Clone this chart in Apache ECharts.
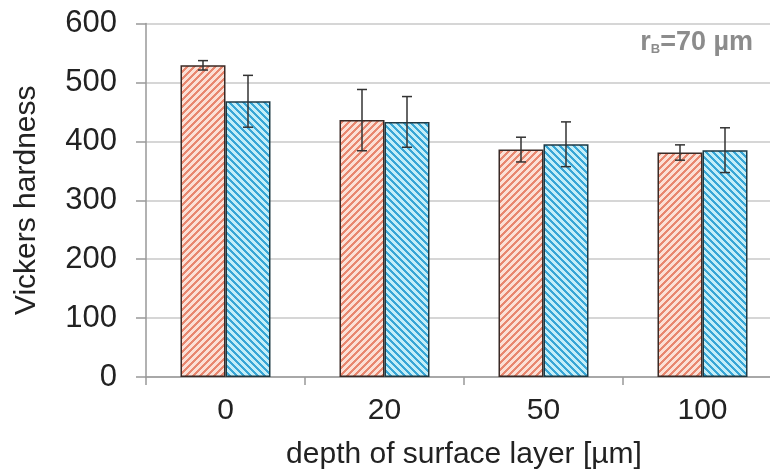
<!DOCTYPE html>
<html>
<head>
<meta charset="utf-8">
<script src="https://cdn.jsdelivr.net/npm/echarts@6/dist/echarts.min.js"></script>
<style>
html,body{margin:0;padding:0;background:#fff;}
#chart{width:770px;height:475px;}
</style>
</head>
<body>
<div id="chart"></div>
<script>
// ---- data ----
var categories = ['0', '20', '50', '100'];
var redValues  = [529, 436, 386, 381];
var redErrors  = [8, 52, 21, 13];
var blueValues = [468, 433, 395, 385];
var blueErrors = [44, 43, 38, 38];
var yTicks = [0, 100, 200, 300, 400, 500, 600];

function makeHatch(bg, fg, dir) {
  var n = 7;
  var c = document.createElement('canvas');
  c.width = n; c.height = n;
  var ctx = c.getContext('2d');
  ctx.fillStyle = bg;
  ctx.fillRect(0, 0, n, n);
  ctx.fillStyle = fg;
  for (var x = 0; x < n; x++) {
    for (var y = 0; y < n; y++) {
      var k = dir > 0 ? (x + y) % n : ((x - y) % n + n) % n;
      if (k < 3) ctx.fillRect(x, y, 1, 1);
    }
  }
  return c;
}
var redPattern = makeHatch('#fbe0d6', '#e8876f', 1);
var bluePattern = makeHatch('#c4eef8', '#38a6d6', -1);

var BAR_W = 45;
var FONT = '"Liberation Sans", Arial, sans-serif';

function errSeries(vals, errs, offset) {
  var data = vals.map(function (v, i) { return [i, v, errs[i]]; });
  return {
    type: 'custom',
    data: data,
    z: 10,
    renderItem: function (params, api) {
      var i = api.value(0), v = api.value(1), e = api.value(2);
      var top = api.coord([i, v + e]);
      var bot = api.coord([i, v - e]);
      var x = top[0] + offset;
      var cap = 5;
      var st = { stroke: '#333', lineWidth: 1.5 };
      return {
        type: 'group',
        children: [
          { type: 'line', shape: { x1: x, y1: top[1], x2: x, y2: bot[1] }, style: st },
          { type: 'line', shape: { x1: x - cap, y1: top[1], x2: x + cap, y2: top[1] }, style: st },
          { type: 'line', shape: { x1: x - cap, y1: bot[1], x2: x + cap, y2: bot[1] }, style: st }
        ]
      };
    }
  };
}

var chart = echarts.init(document.getElementById('chart'));
chart.setOption({
  animation: false,
  backgroundColor: '#fff',
  textStyle: { fontFamily: FONT },
  grid: { left: 146, top: 23.5, bottom: 98, right: -12, containLabel: false, outerBoundsMode: 'none' },
  title: {
    text: '{r|r}{sub|B}{r|=70 µm}',
    right: 12,
    top: 24,
    textStyle: {
      rich: {
        r: { fontSize: 27, fontWeight: 'bold', color: '#8c8c8c', fontFamily: FONT },
        sub: { fontSize: 13, fontWeight: 'bold', color: '#8c8c8c', fontFamily: FONT, padding: [13, 0, 0, 0] }
      }
    }
  },
  xAxis: {
    type: 'category',
    data: categories,
    name: 'depth of surface layer [µm]',
    nameLocation: 'middle',
    nameGap: 63,
    nameTextStyle: { fontSize: 30, color: '#222', fontFamily: FONT },
    axisLine: { lineStyle: { color: '#999', width: 1.5 } },
    axisTick: { show: true, length: 8, lineStyle: { color: '#999', width: 1.5 } },
    axisLabel: { fontSize: 30, color: '#222', margin: 19, fontFamily: FONT }
  },
  yAxis: {
    type: 'value',
    min: 0, max: 600, interval: 100,
    name: 'Vickers hardness',
    nameLocation: 'middle',
    nameGap: 104,
    nameTextStyle: { fontSize: 30, color: '#222', fontFamily: FONT },
    axisLine: { show: true, lineStyle: { color: '#999', width: 1.5 } },
    axisTick: { show: true, length: 10, lineStyle: { color: '#999', width: 1.5 } },
    splitLine: { lineStyle: { color: '#c8c8c8', width: 1.5 } },
    axisLabel: { fontSize: 31, color: '#222', margin: 29, fontFamily: FONT,
      formatter: function (v) { return yTicks.indexOf(v) >= 0 ? String(v) : ''; } }
  },
  series: [
    {
      type: 'bar', data: redValues, barWidth: BAR_W, barGap: '0%',
      itemStyle: { color: { image: redPattern, repeat: 'repeat' }, borderColor: '#3a2a26', borderWidth: 1.5 }
    },
    {
      type: 'bar', data: blueValues, barWidth: BAR_W, barGap: '0%',
      itemStyle: { color: { image: bluePattern, repeat: 'repeat' }, borderColor: '#1f3a44', borderWidth: 1.5 }
    },
    errSeries(redValues, redErrors, -BAR_W / 2),
    errSeries(blueValues, blueErrors, BAR_W / 2)
  ]
});
</script>
</body>
</html>
